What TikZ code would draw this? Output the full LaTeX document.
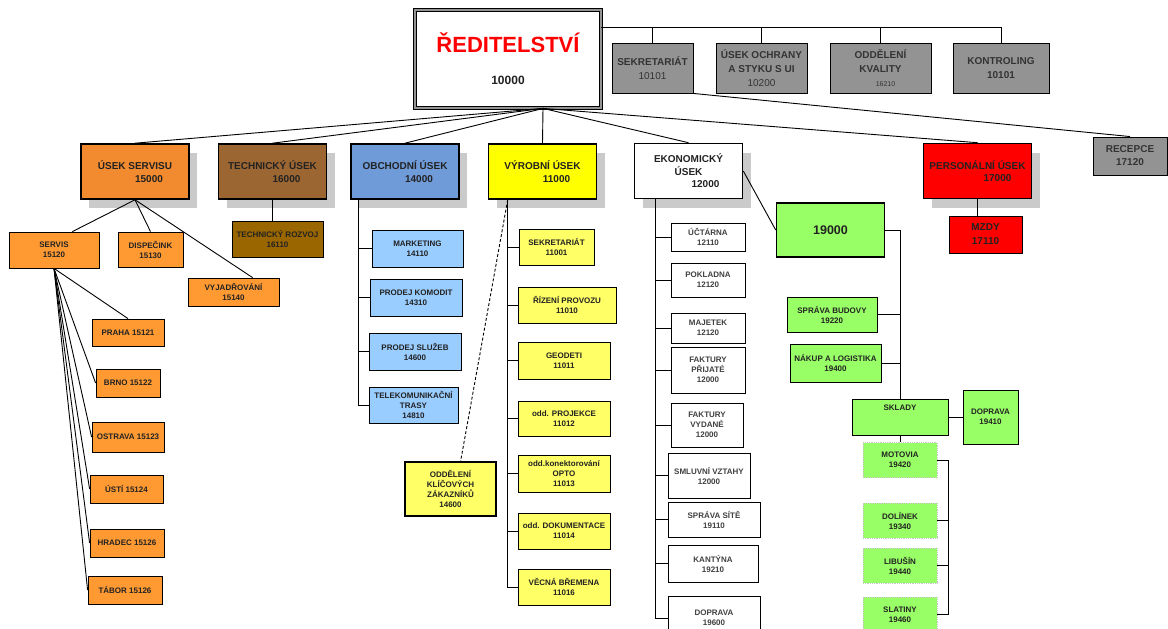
\documentclass[tikz,border=0pt]{standalone}
\usepackage{fontspec}
\setmainfont{Liberation Sans}
\usepackage{tikz}
\usetikzlibrary{positioning, calc, shadows}

\definecolor{greybox}{HTML}{939393}
\definecolor{servisorange}{HTML}{F28A30}
\definecolor{servissub}{HTML}{FF9A33}
\definecolor{techbrown}{HTML}{9C6633}
\definecolor{rozvojbrown}{HTML}{996600}
\definecolor{obchblue}{HTML}{6F9BD8}
\definecolor{obchsub}{HTML}{99CCFF}
\definecolor{vyryellow}{HTML}{FFFF00}
\definecolor{vyrsub}{HTML}{FFFF66}
\definecolor{persred}{HTML}{FF0000}
\definecolor{ekgreen}{HTML}{99FF66}
\definecolor{shadowgrey}{HTML}{CACACA}
\definecolor{textdark}{HTML}{222222}

\newcommand{\numshift}[1]{\hspace*{28pt}#1}

\begin{document}
\begin{tikzpicture}[x=1pt, y=-1pt,
        every node/.style={text=textdark},
        link/.style={line width=0.9pt},
        dirbox/.style={rectangle, draw=black, line width=0.8pt, double=greybox, double distance=2.4pt, fill=white, minimum width=186, minimum height=98, align=center, font=\fontsize{12}{14}\selectfont\bfseries},
        topbox/.style={rectangle, draw, line width=0.9pt, fill=greybox, minimum height=50, align=center, inner sep=1pt, font=\fontsize{10}{14}\selectfont\bfseries, text=black!80},
        l1/.style={rectangle, draw, line width=1.6pt, minimum width=108, minimum height=55, align=center, inner sep=1pt, font=\fontsize{10}{12.5}\selectfont\bfseries, drop shadow={shadow xshift=8pt, shadow yshift=-9pt, fill=shadowgrey, opacity=1}},
        sub/.style={rectangle, draw, line width=0.8pt, minimum width=91, minimum height=36, align=center, inner sep=1pt, font=\fontsize{8}{10}\selectfont\bfseries},
        eksub/.style={sub, fill=white, minimum width=74, text=black!75},
        grsub/.style={sub, fill=ekgreen},
        branch/.style={sub, fill=ekgreen, draw=gray!45, densely dotted, minimum width=74, minimum height=35}
    ]
    \useasboundingbox (0,0) rectangle (1168,629);

    % Director and staff
    \node[dirbox] (dir) at (508,59) {{\fontsize{22}{22}\selectfont\color{red}ŘEDITELSTVÍ}\\[18pt]10000};
    \node[topbox, minimum width=81] (sekr) at (652.5,68) {SEKRETARIÁT\\{\mdseries 10101}};
    \node[topbox, minimum width=91] (ochrana) at (761.5,68) {ÚSEK OCHRANY\\A STYKU S UI\\{\mdseries 10200}};
    \node[topbox, minimum width=101] (kvalita) at (880.5,68) {ODDĚLENÍ\\KVALITY\\{\mdseries\fontsize{7}{8}\selectfont\hspace*{10pt}16210}};
    \node[topbox, minimum width=96] (kontroling) at (1001,68) {KONTROLING\\10101};
    \node[topbox, minimum width=74, minimum height=38, font=\fontsize{10}{13}\selectfont\bfseries] (recepce) at (1130,156) {RECEPCE\\17120};

    % Divisions
    \node[l1, fill=servisorange] (servisu) at (135,171.5) {ÚSEK SERVISU\\\numshift{15000}};
    \node[l1, fill=techbrown] (technicky) at (272.5,171.5) {TECHNICKÝ ÚSEK\\\numshift{16000}};
    \node[l1, fill=obchblue] (obchodni) at (405,171.5) {OBCHODNÍ ÚSEK\\\numshift{14000}};
    \node[l1, fill=vyryellow] (vyrobni) at (542.5,171.5) {VÝROBNÍ ÚSEK\\\numshift{11000}};
    \node[l1, fill=white] (ekonom) at (688.5,171) {EKONOMICKÝ\\ÚSEK\\\hspace*{34pt}12000};
    \node[l1, fill=persred] (personal) at (977.5,171) {PERSONÁLNÍ ÚSEK\\\hspace*{40pt}17000};

    % Servis
    \node[sub, fill=servissub, minimum width=90] (servis) at (54,250) {SERVIS\\15120};
    \node[sub, fill=servissub, minimum width=65, minimum height=35] (dispecink) at (150.5,249.5) {DISPEČINK\\15130};
    \node[sub, fill=servissub, minimum height=28] (vyjadrovani) at (233.5,292) {VYJADŘOVÁNÍ\\15140};
    \node[sub, fill=servissub, minimum width=72, minimum height=27] (praha) at (128,332.5) {PRAHA 15121};
    \node[sub, fill=servissub, minimum width=64, minimum height=28] (brno) at (128,383) {BRNO 15122};
    \node[sub, fill=servissub, minimum width=72, minimum height=30] (ostrava) at (128,437) {OSTRAVA 15123};
    \node[sub, fill=servissub, minimum width=73, minimum height=28] (usti) at (126.5,489) {ÚSTÍ 15124};
    \node[sub, fill=servissub, minimum width=74, minimum height=28] (hradec) at (127,543) {HRADEC 15126};
    \node[sub, fill=servissub, minimum width=74, minimum height=28] (tabor) at (125,590) {TÁBOR 15126};

    % Technicky
    \node[sub, fill=rozvojbrown, inner sep=0pt] (rozvoj) at (277.5,239) {TECHNICKÝ ROZVOJ\\16110};

    % Obchodni
    \node[sub, fill=obchsub, minimum height=37] (marketing) at (417.5,248.5) {MARKETING\\14110};
    \node[sub, fill=obchsub, minimum width=92, minimum height=37] (komodit) at (416,297.5) {PRODEJ KOMODIT\\14310};
    \node[sub, fill=obchsub, minimum width=92, minimum height=37] (sluzeb) at (415,351.5) {PRODEJ SLUŽEB\\14600};
    \node[sub, fill=obchsub, minimum width=89] (telekom) at (413.5,405) {TELEKOMUNIKAČNÍ\\TRASY\\14810};

    % Vyrobni
    \node[sub, fill=vyrsub, minimum width=75] (vsekr) at (556.5,247) {SEKRETARIÁT\\11001};
    \node[sub, fill=vyrsub, minimum width=98] (rizeni) at (567,305) {ŘÍZENÍ PROVOZU\\11010};
    \node[sub, fill=vyrsub, minimum width=92, minimum height=37] (geodeti) at (564,360.5) {GEODETI\\11011};
    \node[sub, fill=vyrsub, minimum width=92, minimum height=35] (projekce) at (564,418.5) {odd. PROJEKCE\\11012};
    \node[sub, fill=vyrsub, minimum width=92, minimum height=37] (opto) at (564,473.5) {odd.konektorování\\OPTO\\11013};
    \node[sub, fill=vyrsub, minimum width=92] (dokum) at (564,531) {odd. DOKUMENTACE\\11014};
    \node[sub, fill=vyrsub, minimum width=92] (bremena) at (564,587) {VĚCNÁ BŘEMENA\\11016};
    \node[sub, fill=vyrsub, line width=1.6pt, minimum height=54] (klic) at (450.5,489) {ODDĚLENÍ\\KLÍČOVÝCH\\ZÁKAZNÍKŮ\\14600};

    % Ekonomicky
    \node[eksub, minimum height=28] (uctarna) at (708,237) {ÚČTÁRNA\\12110};
    \node[eksub, minimum height=34] (pokladna) at (708,280) {POKLADNA\\12120};
    \node[eksub, minimum height=30] (majetek) at (708,328) {MAJETEK\\12120};
    \node[eksub, minimum height=46] (fprijate) at (708,370) {FAKTURY\\PŘIJATÉ\\12000};
    \node[eksub, minimum width=72, minimum height=44] (fvydane) at (707,425) {FAKTURY\\VYDANÉ\\12000};
    \node[eksub, minimum width=82, minimum height=45] (smluvni) at (709,475.5) {SMLUVNÍ VZTAHY\\12000};
    \node[eksub, minimum width=92, minimum height=35] (sprava) at (714,519.5) {SPRÁVA SÍTĚ\\19110};
    \node[eksub, minimum width=90, minimum height=37] (kantyna) at (713,563.5) {KANTÝNA\\19210};
    \node[eksub, minimum width=92, minimum height=44] (ekdoprava) at (714,618) {DOPRAVA\\19600};

    % 19000
    \node[sub, fill=ekgreen, line width=1.6pt, minimum width=108, minimum height=54, font=\fontsize{12.5}{14}\selectfont\bfseries] (g19) at (830.5,230) {19000};
    \node[grsub, minimum width=90, minimum height=35] (budovy) at (832,314.5) {SPRÁVA BUDOVY\\19220};
    \node[grsub, minimum width=91, minimum height=38] (nakup) at (835.5,363) {NÁKUP A LOGISTIKA\\19400};
    \node[grsub, minimum width=96, minimum height=36] (sklady) at (900,417) {SKLADY\\[8pt]};
    \node[grsub, minimum width=55, minimum height=54] (doprava) at (990.5,417) {DOPRAVA\\19410};
    \node[branch] (motovia) at (900,460) {MOTOVIA\\19420};
    \node[branch] (dolinek) at (900,520.5) {DOLÍNEK\\19340};
    \node[branch] (libusin) at (900,565.5) {LIBUŠÍN\\19440};
    \node[branch] (slatiny) at (900,614.5) {SLATINY\\19460};

    % Personalni
    \node[sub, fill=persred, minimum width=73, minimum height=37, font=\fontsize{10}{14}\selectfont\bfseries] (mzdy) at (985.5,234.5) {MZDY\\17110};

    % Edges
    \coordinate (bus) at ($(dir.north east)+(0,18)$);
    \draw[link] (bus) -| (kontroling.north);
    \foreach \n in {sekr, ochrana, kvalita}
        \draw[link] (\n.north) -- (\n.north |- bus);
    \draw[link] (sekr.south east) -- (recepce.north);

    \coordinate (fan) at ($(dir.south)+(35,0)$);
    \foreach \n in {servisu, technicky, obchodni, vyrobni, ekonom, personal}
        \draw[link] (fan) -- (\n.north);

    \draw[link] (servisu.south) -- (servis.45);
    \draw[link] (servisu.south) -- (dispecink.north);
    \draw[link] (servisu.south) -- (vyjadrovani.37);
    \draw[link] (servis.south) -- (praha.north);
    \foreach \n in {brno, ostrava, usti, hradec, tabor}
        \draw[link] (servis.south) -- (\n.west);

    \draw[link] (technicky.south) -- (technicky.south |- rozvoj.north);

    \coordinate (obline) at ($(obchodni.south west)+(8,0)$);
    \foreach \n in {marketing, komodit, sluzeb, telekom}
        \draw[link] (obline) |- (\n.west);

    \coordinate (vyrline) at ($(vyrobni.south west)+(20,0)$);
    \foreach \n in {vsekr, rizeni, geodeti, projekce, opto, dokum, bremena}
        \draw[link] (vyrline) |- (\n.west);
    \draw[link, dash pattern=on 3pt off 2pt] (vyrline) -- (klic.70);

    \coordinate (ekline) at ($(ekonom.south west)+(22,0)$);
    \foreach \n in {uctarna, pokladna, majetek, fprijate, fvydane, smluvni, sprava, kantyna, ekdoprava}
        \draw[link] (ekline) |- (\n.west);
    \draw[link] (ekonom.east) -- (g19.west);

    \draw[link] (g19.east) -| (sklady.north);
    \draw[link] (budovy.east) -- (budovy.east -| sklady.north);
    \draw[link] (nakup.east) -- (nakup.east -| sklady.north);
    \draw[link] (sklady.east) -- (doprava.west);
    \draw[link] (sklady.south) -- (motovia.north);
    \draw[link] (motovia.east) -- ++(11,0) |- (slatiny.east);
    \foreach \n in {dolinek, libusin}
        \draw[link] (\n.east) -- ++(11,0);

    \draw[link] (personal.south) -- (personal.south |- mzdy.north);
\end{tikzpicture}
\end{document}
